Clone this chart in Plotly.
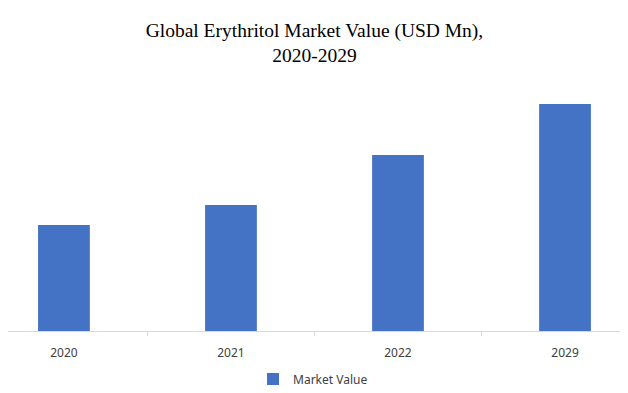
import plotly.graph_objects as go

years = ["2020", "2021", "2022", "2029"]
market_value = [106, 126, 176, 227]
series_name = "Market Value"
title_text = "Global Erythritol Market Value (USD Mn),<br>2020-2029"

fig = go.Figure()
fig.add_trace(go.Bar(
    x=years, y=market_value, name=series_name,
    marker=dict(color="#4472C4", line=dict(width=0)),
    showlegend=True,
))

fig.update_layout(
    width=628, height=393,
    margin=dict(l=0, r=0, t=82, b=70, autoexpand=False),
    paper_bgcolor="white", plot_bgcolor="white",
    bargap=0.69,
    title=dict(text=title_text, x=0.488, xanchor="center", yref="container", y=0.927, yanchor="top",
               font=dict(family="Liberation Serif", size=19.5, color="#000000")),
    xaxis=dict(type="category", range=[-0.335, 3.425], automargin=False,
               showline=True, linecolor="#D9D9D9", linewidth=1,
               tickson="boundaries", ticks="outside", ticklen=4, tickcolor="#D9D9D9",
               ticklabelstandoff=11,
               showgrid=False, tickfont=dict(family="Noto Sans", size=12, color="#404040"),
               fixedrange=True),
    yaxis=dict(range=[0, 241], visible=False, showgrid=False, fixedrange=True, automargin=False),
    legend=dict(orientation="h", x=0.4857, xanchor="center", yref="container", y=0.056, yanchor="middle",
                font=dict(family="Noto Sans", size=12, color="#404040"),
                itemwidth=30),
)

fig.write_html("out.html")
